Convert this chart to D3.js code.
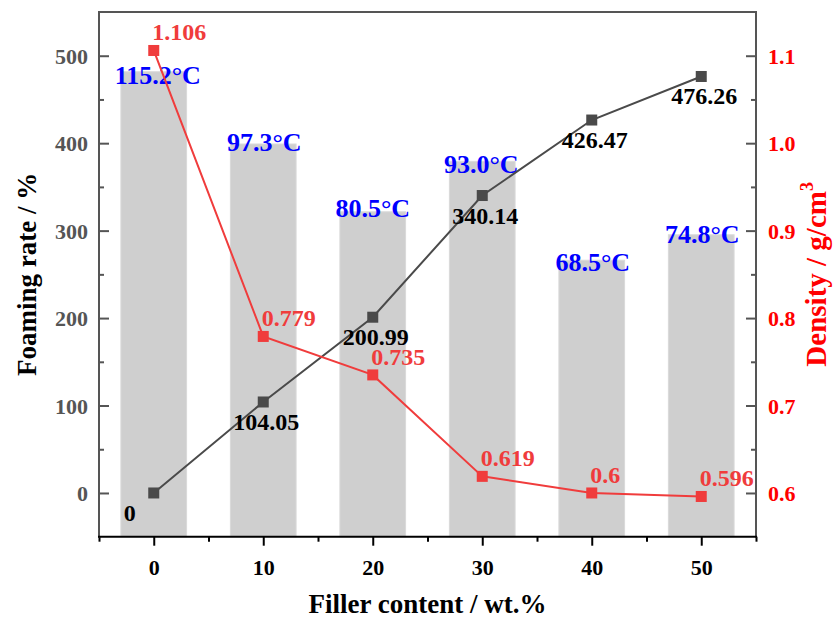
<!DOCTYPE html>
<html>
<head>
<meta charset="utf-8">
<script src="https://cdn.jsdelivr.net/npm/d3@7"></script>
<style>
  html, body { margin: 0; padding: 0; background: #fff; }
  svg { display: block; font-family: "Liberation Serif", "Times New Roman", serif; font-weight: bold; }
</style>
</head>
<body>
<svg id="chart" width="833" height="621"></svg>
<script>
// Filler content (wt.%)
const fillerContent = [0, 10, 20, 30, 40, 50];
// Foaming rate (%)
const foamingRate = [0, 104.05, 200.99, 340.14, 426.47, 476.26];
const foamingLabels = ["0", "104.05", "200.99", "340.14", "426.47", "476.26"];
// Density (g/cm3)
const density = [1.106, 0.779, 0.735, 0.619, 0.6, 0.596];
const densityLabels = ["1.106", "0.779", "0.735", "0.619", "0.6", "0.596"];
// Foaming temperature (°C), drawn as bars
const temperature = [115.2, 97.3, 80.5, 93.0, 68.5, 74.8];
const temperatureLabels = ["115.2°C", "97.3°C", "80.5°C", "93.0°C", "68.5°C", "74.8°C"];

const xTicks = [0, 10, 20, 30, 40, 50];
const xMinorTicks = [-5, 5, 15, 25, 35, 45, 55];
const leftTicks = [0, 100, 200, 300, 400, 500];
const leftMinorTicks = [50, 150, 250, 350, 450];
const rightTicks = [0.6, 0.7, 0.8, 0.9, 1.0, 1.1];
const rightMinorTicks = [0.65, 0.75, 0.85, 0.95, 1.05];

// small nudges for the temperature captions above each bar
const tempLabelDx = [4, 1, 0, -1, 1, 1];
const tempLabelDy = [12, 7, 5, 12, 10.5, 8.5];

const L = 99, R = 756, T = 12, B = 536.7;
const svg = d3.select("#chart");

const x = d3.scaleLinear().domain([-5, 55]).range([L, R]);
const yL = d3.scaleLinear().domain([-50, 550]).range([B, T]);
const yR = d3.scaleLinear().domain([0.55, 1.15]).range([B, T]);
const yT = d3.scaleLinear().domain([0, 130]).range([B, T]);

const grey = "#555555";
const redLine = "#f03c3c";
const darkLine = "#4a4a4a";

// bars (temperature)
const barW = x(3) - x(-3);
svg.append("g").selectAll("rect").data(temperature).join("rect")
  .attr("x", (d, i) => x(fillerContent[i]) - barW / 2)
  .attr("y", d => yT(d))
  .attr("width", barW)
  .attr("height", d => B - yT(d))
  .attr("fill", "#cfcfcf")
  .attr("stroke", "#dadada")
  .attr("stroke-width", 1);

// temperature captions
svg.append("g").selectAll("text").data(temperature).join("text")
  .attr("x", (d, i) => x(fillerContent[i]) + tempLabelDx[i])
  .attr("y", (d, i) => yT(d) + tempLabelDy[i])
  .attr("text-anchor", "middle")
  .attr("fill", "#0000ff")
  .attr("font-size", 26)
  .text((d, i) => temperatureLabels[i]);

// axes
function styleAxis(g) {
  g.select(".domain").remove();
  g.selectAll("text").attr("font-family", "Liberation Serif").attr("font-weight", "bold");
}

const leftAxis = svg.append("g").attr("transform", `translate(${L},0)`)
  .call(d3.axisLeft(yL).tickValues(leftTicks).tickSizeInner(-10).tickSizeOuter(0).tickPadding(11).tickFormat(d3.format("d")))
  .call(styleAxis);
leftAxis.selectAll("line").attr("stroke", grey).attr("stroke-width", 2);
leftAxis.selectAll("text").attr("fill", grey).attr("font-size", 22).attr("dy", "0.34em");
svg.append("g").attr("transform", `translate(${L},0)`)
  .call(d3.axisLeft(yL).tickValues(leftMinorTicks).tickSizeInner(-5).tickSizeOuter(0).tickFormat(""))
  .call(styleAxis)
  .selectAll("line").attr("stroke", grey).attr("stroke-width", 2);

const rightAxis = svg.append("g").attr("transform", `translate(${R},0)`)
  .call(d3.axisRight(yR).tickValues(rightTicks).tickSizeInner(-10).tickSizeOuter(0).tickPadding(12).tickFormat(d3.format(".1f")))
  .call(styleAxis);
rightAxis.selectAll("line").attr("stroke", grey).attr("stroke-width", 2);
rightAxis.selectAll("text").attr("fill", "#ff0000").attr("font-size", 22).attr("dy", "0.34em");
svg.append("g").attr("transform", `translate(${R},0)`)
  .call(d3.axisRight(yR).tickValues(rightMinorTicks).tickSizeInner(-5).tickSizeOuter(0).tickFormat(""))
  .call(styleAxis)
  .selectAll("line").attr("stroke", grey).attr("stroke-width", 2);

const bottomAxis = svg.append("g").attr("transform", `translate(0,${B})`)
  .call(d3.axisBottom(x).tickValues(xTicks).tickSizeInner(9).tickSizeOuter(0).tickPadding(14).tickFormat(d3.format("d")))
  .call(styleAxis);
bottomAxis.selectAll("line").attr("stroke", "#000").attr("stroke-width", 2);
bottomAxis.selectAll("text").attr("fill", "#000").attr("font-size", 22).attr("dy", "0.71em");
svg.append("g").attr("transform", `translate(0,${B})`)
  .call(d3.axisBottom(x).tickValues(xMinorTicks).tickSizeInner(5).tickSizeOuter(0).tickFormat(""))
  .call(styleAxis)
  .selectAll("line").attr("stroke", "#000").attr("stroke-width", 2);

// frame
svg.append("line").attr("x1", L).attr("x2", R).attr("y1", T).attr("y2", T).attr("stroke", grey).attr("stroke-width", 2);
svg.append("line").attr("x1", L).attr("x2", L).attr("y1", T - 1).attr("y2", B + 1).attr("stroke", grey).attr("stroke-width", 2);
svg.append("line").attr("x1", R).attr("x2", R).attr("y1", T - 1).attr("y2", B + 1).attr("stroke", grey).attr("stroke-width", 2);
svg.append("line").attr("x1", L - 1).attr("x2", R + 1).attr("y1", B).attr("y2", B).attr("stroke", "#000").attr("stroke-width", 2);

// foaming rate series
const foamLine = d3.line().x((d, i) => x(fillerContent[i])).y(d => yL(d));
svg.append("path").datum(foamingRate).attr("d", foamLine)
  .attr("fill", "none").attr("stroke", darkLine).attr("stroke-width", 2);
svg.append("g").selectAll("rect").data(foamingRate).join("rect")
  .attr("x", (d, i) => x(fillerContent[i]) - 5.5)
  .attr("y", d => yL(d) - 5.5)
  .attr("width", 11).attr("height", 11)
  .attr("fill", darkLine);

// density series
const densLine = d3.line().x((d, i) => x(fillerContent[i])).y(d => yR(d));
svg.append("path").datum(density).attr("d", densLine)
  .attr("fill", "none").attr("stroke", redLine).attr("stroke-width", 2);
svg.append("g").selectAll("rect").data(density).join("rect")
  .attr("x", (d, i) => x(fillerContent[i]) - 5.5)
  .attr("y", d => yR(d) - 5.5)
  .attr("width", 11).attr("height", 11)
  .attr("fill", redLine);

// value labels
svg.append("g").selectAll("text").data(foamingRate).join("text")
  .attr("x", (d, i) => x(fillerContent[i]) - 30)
  .attr("y", d => yL(d) + 28)
  .attr("fill", "#000")
  .attr("font-size", 24)
  .text((d, i) => foamingLabels[i]);

svg.append("g").selectAll("text").data(density).join("text")
  .attr("x", (d, i) => x(fillerContent[i]) - 1.5)
  .attr("y", d => yR(d) - 10)
  .attr("fill", redLine)
  .attr("font-size", 24)
  .text((d, i) => densityLabels[i]);

// axis titles
svg.append("text")
  .attr("transform", `translate(36,${(T + B) / 2}) rotate(-90)`)
  .attr("text-anchor", "middle")
  .attr("fill", "#000")
  .attr("font-size", 27)
  .text("Foaming rate / %");

const rt = svg.append("text")
  .attr("transform", `translate(826,${(T + B) / 2}) rotate(-90)`)
  .attr("text-anchor", "middle")
  .attr("fill", "#ff0000")
  .attr("font-size", 29);
rt.append("tspan").text("Density / g/cm");
rt.append("tspan").attr("font-size", 18).attr("dy", "-0.7em").text("3");

svg.append("text")
  .attr("x", (L + R) / 2)
  .attr("y", 613)
  .attr("text-anchor", "middle")
  .attr("fill", "#000")
  .attr("font-size", 27)
  .text("Filler content / wt.%");
</script>
</body>
</html>
